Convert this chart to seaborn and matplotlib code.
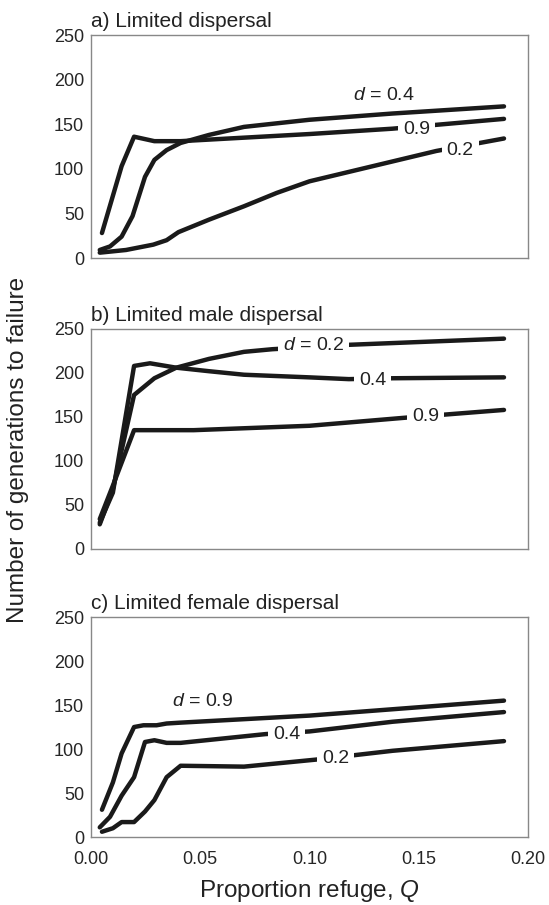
import numpy as np
import pandas as pd
import seaborn as sns
import matplotlib.pyplot as plt

# values
# a) Limited dispersal
a_q_09 = [0.005, 0.014, 0.0197, 0.029, 0.041, 0.10, 0.138, 0.189]
a_g_09 = [28, 103, 136, 131, 131, 139, 145, 156]
a_q_04 = [0.004, 0.0087, 0.014, 0.019, 0.0247, 0.029, 0.0346, 0.041, 0.054, 0.070, 0.100, 0.138, 0.189]
a_g_04 = [9, 13, 24, 47, 91, 110, 121, 129, 138, 147, 155, 162, 170]
a_q_02 = [0.004, 0.016, 0.0285, 0.0346, 0.040, 0.054, 0.070, 0.085, 0.100, 0.158, 0.189]
a_g_02 = [6, 9, 15, 20, 29, 43, 58, 73, 86, 120, 134]

# b) Limited male dispersal
b_q_02 = [0.004, 0.010, 0.0197, 0.029, 0.039, 0.054, 0.070, 0.083, 0.118, 0.189]
b_g_02 = [28, 68, 175, 194, 206, 216, 224, 227, 232, 239]
b_q_04 = [0.004, 0.010, 0.0197, 0.027, 0.039, 0.054, 0.070, 0.100, 0.118, 0.138, 0.189]
b_g_04 = [30, 64, 208, 211, 206, 202, 198, 195, 193, 194, 195]
b_q_09 = [0.004, 0.010, 0.0197, 0.047, 0.100, 0.143, 0.189]
b_g_09 = [34, 72, 135, 135, 140, 149, 158]

# c) Limited female dispersal
c_q_09 = [0.005, 0.010, 0.014, 0.0197, 0.024, 0.030, 0.0346, 0.041, 0.100, 0.158, 0.189]
c_g_09 = [31, 62, 95, 125, 127, 127, 129, 130, 138, 149, 155]
c_q_04 = [0.004, 0.0087, 0.014, 0.0197, 0.0247, 0.029, 0.0346, 0.041, 0.080, 0.100, 0.138, 0.189]
c_g_04 = [11, 23, 47, 68, 108, 110, 107, 107, 117, 120, 131, 142]
c_q_02 = [0.005, 0.010, 0.014, 0.0197, 0.0247, 0.029, 0.0346, 0.041, 0.070, 0.103, 0.138, 0.189]
c_g_02 = [6, 10, 17, 17, 29, 42, 68, 81, 80, 88, 98, 109]

titles = ["a) Limited dispersal", "b) Limited male dispersal", "c) Limited female dispersal"]
x_ticks = [0.00, 0.05, 0.10, 0.15, 0.20]
y_ticks = [0, 50, 100, 150, 200, 250]

panels = [
    [(a_q_04, a_g_04), (a_q_09, a_g_09), (a_q_02, a_g_02)],
    [(b_q_02, b_g_02), (b_q_04, b_g_04), (b_q_09, b_g_09)],
    [(c_q_09, c_g_09), (c_q_04, c_g_04), (c_q_02, c_g_02)],
]
# inline curve labels: (text, x, y)
labels = [
    [("$d$ = 0.4", 0.134, 182), ("0.9", 0.149, 144), ("0.2", 0.169, 121)],
    [("$d$ = 0.2", 0.1017, 231), ("0.4", 0.129, 191), ("0.9", 0.153, 151)],
    [("$d$ = 0.9", 0.051, 154), ("0.4", 0.0895, 116), ("0.2", 0.112, 89)],
]

sns.set_style("white")
plt.rcParams['font.family'] = ['Liberation Sans', 'DejaVu Sans']
plt.rcParams['mathtext.fontset'] = 'custom'
plt.rcParams['mathtext.it'] = 'Liberation Sans:italic'
plt.rcParams['mathtext.rm'] = 'Liberation Sans'

fig = plt.figure(figsize=(5.49, 9.05), dpi=100)
boxes = [[0.1658, 0.7149, 0.796, 0.2464],
         [0.1658, 0.3934, 0.796, 0.2431],
         [0.1658, 0.0751, 0.796, 0.2431]]

for i in range(3):
    ax = fig.add_axes(boxes[i])
    for q, g in panels[i]:
        sns.lineplot(x=q, y=g, ax=ax, color='#1a1a1a', lw=3.2, sort=False, estimator=None)
    for txt, lx, ly in labels[i]:
        ax.text(lx, ly, txt, fontsize=14, ha='center', va='center', color='#222222', zorder=5,
                bbox=dict(facecolor='white', edgecolor='none', pad=3.5))
    ax.set_xlim(0, 0.2)
    ax.set_ylim(0, 250)
    ax.set_xticks(x_ticks)
    ax.set_yticks(y_ticks)
    ax.set_yticklabels([str(v) for v in y_ticks], fontsize=13)
    ax.tick_params(axis='y', direction='in', length=4, color='#777777', width=0.8, pad=5)
    ax.tick_params(axis='x', direction='in', length=4, color='#777777', width=0.8, pad=10)
    if i == 2:
        ax.set_xticklabels(["%.2f" % v for v in x_ticks], fontsize=13)
    else:
        ax.set_xticklabels([])
    for s in ax.spines.values():
        s.set_color('#888888')
        s.set_linewidth(1.0)
    ax.set_title(titles[i], loc='left', fontsize=15, pad=6, color='#222222')

fig.text(0.033, 0.503, "Number of generations to failure", rotation=90, ha='center', va='center',
         fontsize=17.5, color='#222222')
fig.text(0.5637, 0.016, "Proportion refuge, $Q$", ha='center', va='center', fontsize=17.5, color='#222222')

fig.savefig('out.png', dpi=100)
